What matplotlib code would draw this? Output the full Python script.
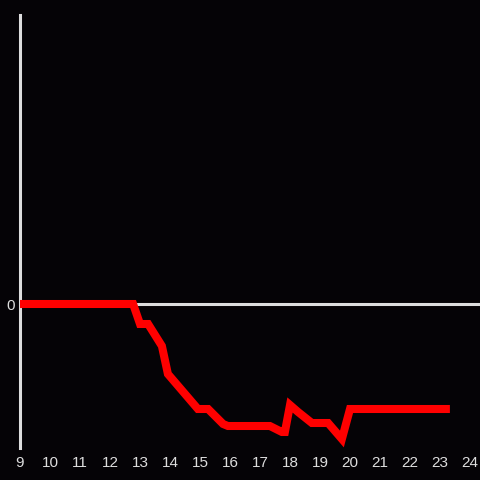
import matplotlib
matplotlib.use("Agg")
import matplotlib.pyplot as plt

hours = [9.0, 12.77, 13.0, 13.27, 13.73, 13.93, 14.93, 15.27, 15.77, 15.93,
         17.33, 17.73, 17.83, 18.0, 18.27, 18.73, 19.27, 19.73, 20.0, 23.33]
values = [0, 0, -20, -20, -42, -70, -105, -105, -120, -122,
          -122, -128, -128, -101, -108, -119, -119, -135, -105, -105]
x_ticks = list(range(9, 25))
y_ticks = [0]

bg = "#050306"
fg = "#dddddd"

plt.rcParams['font.family'] = ['Liberation Sans', 'DejaVu Sans']
fig = plt.figure(figsize=(4.8, 4.8), dpi=100, facecolor=bg)
ax = fig.add_axes([20/480, 32/480, 460/480, 433/480])
ax.set_facecolor(bg)

ax.axhline(0, color=fg, lw=2.2, zorder=1)
ax.plot(hours, values, color="#ff0000", lw=5.8, solid_joinstyle='miter',
        solid_capstyle='butt', zorder=3, clip_on=False)

ax.set_xlim(9, 9 + 460/30)
ax.set_ylim(-144, 289)

for s in ["top", "right", "bottom"]:
    ax.spines[s].set_visible(False)
ax.spines["left"].set_color(fg)
ax.spines["left"].set_linewidth(2.2)
ax.spines["left"].set_zorder(2)

ax.set_xticks(x_ticks)
ax.set_xticklabels([str(t) for t in x_ticks])
ax.set_yticks(y_ticks)
ax.set_yticklabels(["0"])
ax.tick_params(axis='both', length=0, colors=fg, labelsize=11)
ax.tick_params(axis='x', pad=6)
ax.tick_params(axis='y', pad=4)

fig.savefig("out.png", dpi=100, facecolor=bg)
